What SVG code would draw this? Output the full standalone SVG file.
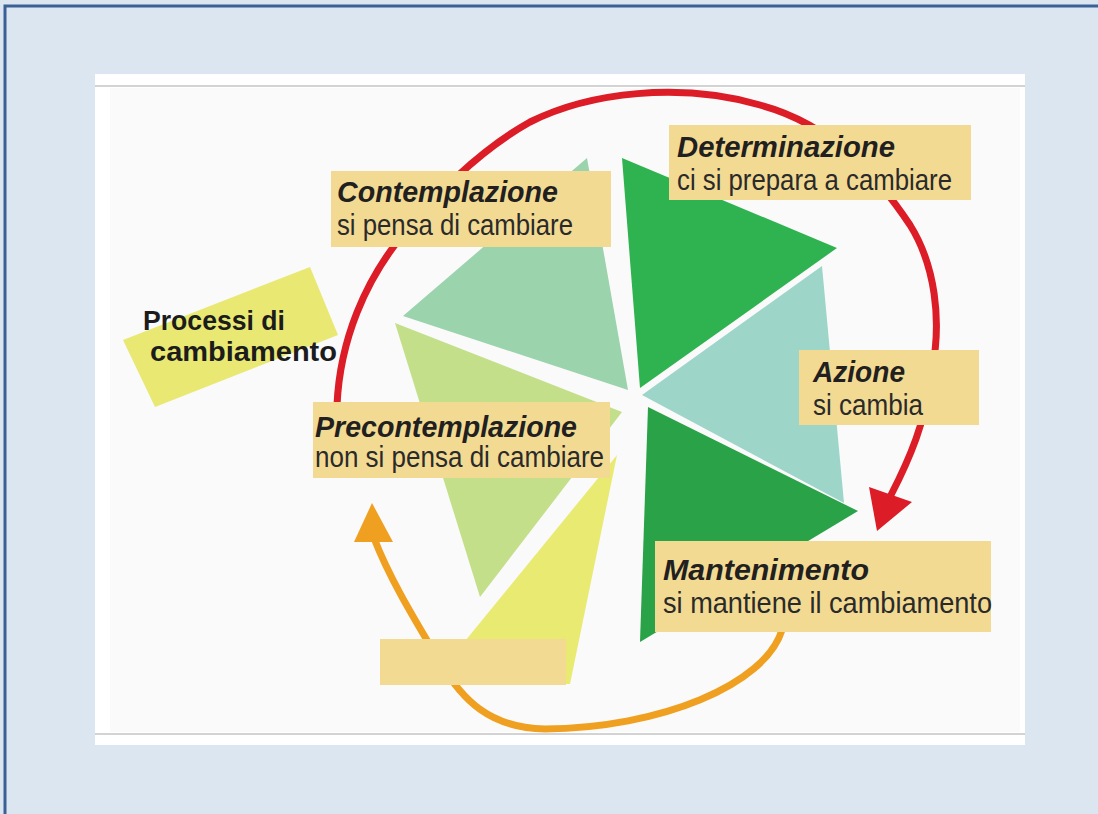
<svg xmlns="http://www.w3.org/2000/svg" width="1098" height="814" viewBox="0 0 1098 814">
<style>
.lbl{fill:#f3da93}
.t1{font-family:"Liberation Sans",Arial,sans-serif;font-weight:bold;font-style:italic;font-size:30px;fill:#221f20}
.t2{font-family:"Liberation Sans",Arial,sans-serif;font-size:29px;fill:#2a2a2a}
.tp{font-family:"Liberation Sans",Arial,sans-serif;font-weight:bold;font-size:27px;fill:#1c1c1c}
.red{fill:none;stroke:#dc1c26;stroke-width:7;stroke-linecap:round}
.redh{fill:#dc1c26}
.org{fill:none;stroke:#f0a020;stroke-width:7;stroke-linecap:round}
.orgh{fill:#f0a020}
</style>
<rect x="0" y="0" width="1098" height="814" fill="#dce6f1"/>
<rect x="5" y="6" width="1100" height="820" fill="none" stroke="#3b6095" stroke-width="3"/>
<rect x="95" y="74" width="930" height="671" fill="#ffffff"/>
<rect x="110" y="88" width="910" height="644" fill="#fafafa"/>
<line x1="95" y1="86" x2="1025" y2="86" stroke="#d3d3d3" stroke-width="2"/>
<line x1="95" y1="734" x2="1025" y2="734" stroke="#d3d3d3" stroke-width="2"/>

<g id="connectors">
<path class="red" d="M 337 405 C 340 340, 365 280, 405 232 C 440 190, 480 150, 530 122 C 590 92, 680 82, 760 105 C 835 125, 880 180, 910 225 C 935 265, 942 320, 932 370 C 927 420, 908 462, 891 495"/>
<polygon class="redh" points="877,531 869,487 912,502"/>
<path class="org" d="M 782 630 C 765 685, 660 728, 545 729 C 490 728, 462 700, 440 662 C 418 625, 390 580, 374 538"/>
<polygon class="orgh" points="372,503 354,542 393,542"/>
</g>

<g id="wheel">
<polygon fill="#9bd3ad" points="587,158 403,316 628,390"/>
<polygon fill="#c3df8a" points="395,323 622,412 480,597"/>
<polygon fill="#e8ea72" points="617,455 570,684 430,684"/>
<polygon fill="#2fb350" points="622,158 837,248 640,388"/>
<polygon fill="#9dd5c9" points="642,395 822,266 844,503"/>
<polygon fill="#2aa248" points="648,407 858,511 640,642"/>
</g>

<g id="processi">
<polygon fill="#e8e872" points="123,340 310,267 338,335 155,407"/>
<text class="tp" x="143" y="330" textLength="142" lengthAdjust="spacingAndGlyphs">Processi di</text>
<text class="tp" x="150" y="361" textLength="187" lengthAdjust="spacingAndGlyphs">cambiamento</text>
</g>

<g id="contemplazione">
<rect class="lbl" x="331" y="171" width="280" height="76"/>
<text class="t1" x="337" y="202" textLength="221" lengthAdjust="spacingAndGlyphs">Contemplazione</text>
<text class="t2" x="337" y="235" textLength="236" lengthAdjust="spacingAndGlyphs">si pensa di cambiare</text>
</g>

<g id="determinazione">
<rect class="lbl" x="669" y="125" width="302" height="75"/>
<text class="t1" x="677" y="157" textLength="218" lengthAdjust="spacingAndGlyphs">Determinazione</text>
<text class="t2" x="677" y="190" textLength="275" lengthAdjust="spacingAndGlyphs">ci si prepara a cambiare</text>
</g>

<g id="azione">
<rect class="lbl" x="799" y="350" width="180" height="75"/>
<text class="t1" x="813" y="382" textLength="92" lengthAdjust="spacingAndGlyphs">Azione</text>
<text class="t2" x="813" y="415" textLength="110" lengthAdjust="spacingAndGlyphs">si cambia</text>
</g>

<g id="precontemplazione">
<rect class="lbl" x="313" y="402" width="297" height="76"/>
<text class="t1" x="315" y="437" textLength="262" lengthAdjust="spacingAndGlyphs">Precontemplazione</text>
<text class="t2" x="315" y="467" textLength="289" lengthAdjust="spacingAndGlyphs">non si pensa di cambiare</text>
</g>

<g id="mantenimento">
<rect class="lbl" x="655" y="541" width="336" height="91"/>
<text class="t1" x="663" y="580" textLength="206" lengthAdjust="spacingAndGlyphs">Mantenimento</text>
<text class="t2" x="663" y="613" textLength="329" lengthAdjust="spacingAndGlyphs">si mantiene il cambiamento</text>
</g>

<g id="empty-label">
<rect class="lbl" x="380" y="639" width="186" height="46"/>
</g>
</svg>
